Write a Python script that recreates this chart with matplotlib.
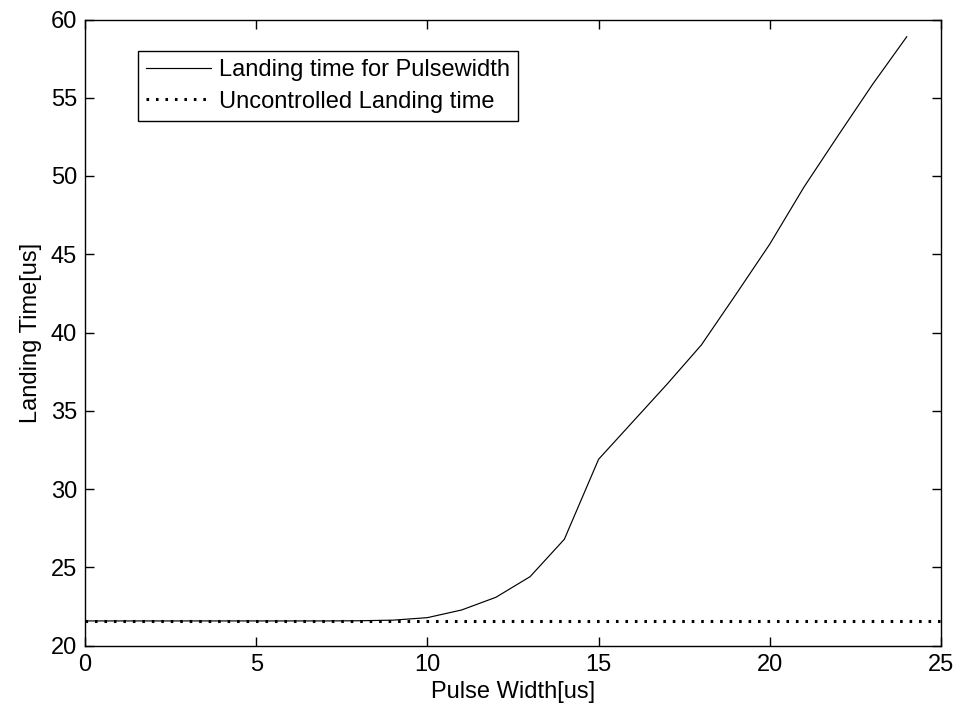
import matplotlib
matplotlib.use('Agg')
import matplotlib.pyplot as plt
from matplotlib.ticker import MultipleLocator

plt.rcParams['font.family'] = ['Liberation Sans', 'DejaVu Sans']

# values
pulse_width = list(range(0, 25))
landing_time = [21.57, 21.57, 21.57, 21.57, 21.57, 21.57, 21.57, 21.57, 21.58,
                21.62, 21.78, 22.27, 23.08, 24.40, 26.79, 31.90, 34.30, 36.70,
                39.20, 42.40, 45.65, 49.30, 52.60, 55.85, 58.90]
uncontrolled_x = [0, 25]
uncontrolled_time = [21.57, 21.57]

x_ticks = [0, 5, 10, 15, 20, 25]
y_ticks = [20, 25, 30, 35, 40, 45, 50, 55, 60]

fig = plt.figure(figsize=(9.62, 7.15), dpi=100)
ax = fig.add_axes([85 / 962, 69.5 / 715, 856 / 962, 626 / 715])

ax.plot(pulse_width, landing_time, color='k', lw=0.85,
        label='Landing time for Pulsewidth')
ax.plot(uncontrolled_x, uncontrolled_time, color='k', lw=2.2,
        dashes=(0.85, 2.25), dash_capstyle='butt',
        label='Uncontrolled Landing time')

ax.set_xlim(0, 25)
ax.set_ylim(20, 60)
ax.set_xticks(x_ticks)
ax.set_yticks(y_ticks)
ax.xaxis.set_minor_locator(MultipleLocator(100))
ax.tick_params(which='both', direction='in', top=True, right=True,
               length=6.2, width=1.0, labelsize=17, pad=5.8, colors='k')

for s in ax.spines.values():
    s.set_linewidth(1.0)
    s.set_color('k')

ax.set_xlabel('Pulse Width[us]', fontsize=17, labelpad=4)
ax.set_ylabel('Landing Time[us]', fontsize=17, labelpad=6.5)

leg = ax.legend(loc='upper left', bbox_to_anchor=(137.7 / 962, 1 - 51 / 715),
                bbox_transform=fig.transFigure, fontsize=17, frameon=True,
                fancybox=False, shadow=False, framealpha=1,
                edgecolor='k', borderpad=0.35, labelspacing=0.4,
                handlelength=2.75, handletextpad=0.35, borderaxespad=0)
leg.get_frame().set_linewidth(1.0)

fig.savefig('out.png', dpi=100, facecolor='white')
